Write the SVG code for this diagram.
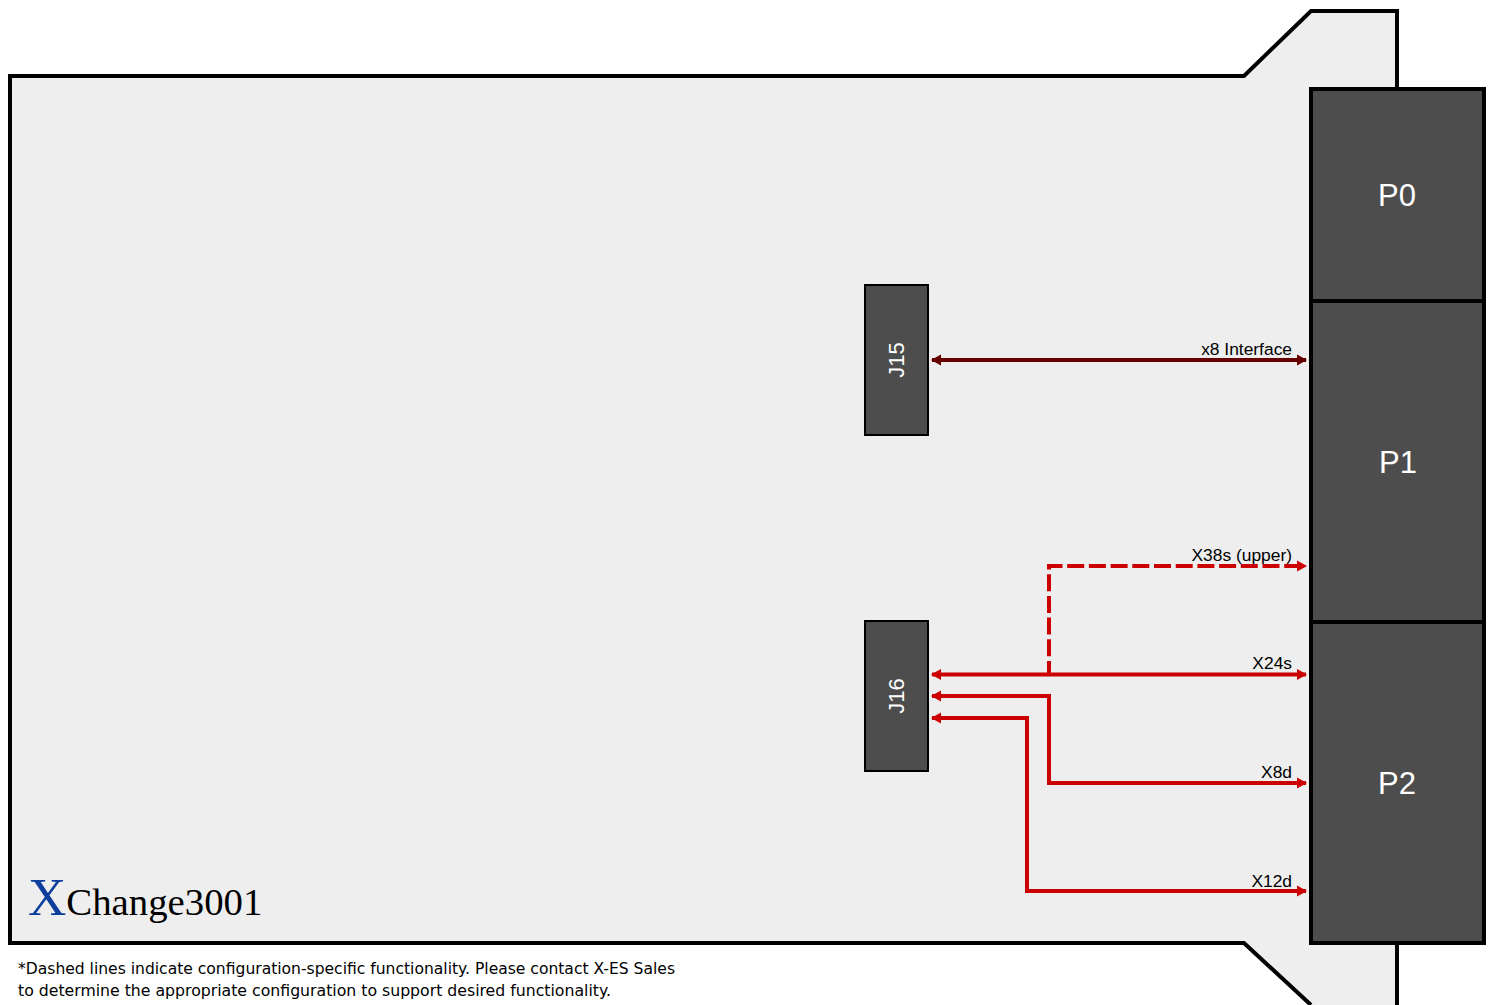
<svg xmlns="http://www.w3.org/2000/svg" width="1493" height="1005" viewBox="0 0 1493 1005">
<style>
.board{fill:#eeeeee;stroke:none}
.edge{fill:none;stroke:#000;stroke-width:4}
.conn{fill:#4d4d4d;stroke:#000;stroke-width:4}
.jack{fill:#4d4d4d;stroke:#000;stroke-width:2}
.l{fill:#fff;font-family:"Liberation Sans",Arial,sans-serif;text-anchor:middle}
.lab{fill:#000;font-family:"Liberation Sans",Arial,sans-serif;font-size:17.400px;text-anchor:end}
.note{fill:#000;font-family:"DejaVu Sans",sans-serif;font-size:16px}
.r{fill:none;stroke:#cc0000;stroke-width:4}
.d{fill:none;stroke:#660000;stroke-width:4}
</style>
<defs>
<marker id="ar" markerUnits="userSpaceOnUse" markerWidth="10" markerHeight="12" refX="9" refY="6" orient="auto-start-reverse"><path d="M0 0.500L10 6L0 11.500z" fill="#cc0000"/></marker>
<marker id="ad" markerUnits="userSpaceOnUse" markerWidth="10" markerHeight="12" refX="9" refY="6" orient="auto-start-reverse"><path d="M0 0.500L10 6L0 11.500z" fill="#660000"/></marker>
</defs>
<g id="board">
<path class="board" d="M10 76H1244L1311 11H1397V1005H1311L1244 943H10z"/>
<path class="edge" d="M1397 89V11H1311L1244 76H10V943H1244L1311 1005M1397 943V1005"/>
</g>
<g id="P0"><rect class="conn" x="1311" y="89" width="173" height="212"/><text class="l" x="1397" y="206" font-size="31">P0</text></g>
<g id="P1"><rect class="conn" x="1311" y="301" width="173" height="321"/><text class="l" x="1398" y="473" font-size="31">P1</text></g>
<g id="P2"><rect class="conn" x="1311" y="622" width="173" height="321"/><text class="l" x="1397" y="794" font-size="31">P2</text></g>
<g id="J15"><rect class="jack" x="865" y="285" width="63" height="150"/><text class="l" transform="translate(904 360) rotate(-90)" font-size="22">J15</text></g>
<g id="J16"><rect class="jack" x="865" y="621" width="63" height="150"/><text class="l" transform="translate(904 696) rotate(-90)" font-size="22">J16</text></g>
<g id="connectors">
<path class="d" d="M932 360H1306" marker-start="url(#ad)" marker-end="url(#ad)"/>
<path class="r" d="M1049 674V566H1306" stroke-dasharray="17 4.700" stroke-dashoffset="4" marker-end="url(#ar)"/>
<path class="r" d="M932 674.500H1306" marker-start="url(#ar)" marker-end="url(#ar)"/>
<path class="r" d="M932 696H1049V783H1306" marker-start="url(#ar)" marker-end="url(#ar)"/>
<path class="r" d="M932 718H1027V891H1306" marker-start="url(#ar)" marker-end="url(#ar)"/>
</g>
<g id="labels">
<text class="lab" x="1292" y="355">x8 Interface</text>
<text class="lab" x="1292" y="561">X38s (upper)</text>
<text class="lab" x="1292" y="669">X24s</text>
<text class="lab" x="1292" y="778">X8d</text>
<text class="lab" x="1292" y="887">X12d</text>
</g>
<g id="logo"><text x="28" y="915" font-family="'Liberation Serif','Times New Roman',serif" font-size="38.800" fill="#000"><tspan font-size="53" fill="#0f3f9c">X</tspan>Change3001</text></g>
<g id="note">
<text class="note" x="18" y="974" textLength="657" lengthAdjust="spacingAndGlyphs">*Dashed lines indicate configuration-specific functionality. Please contact X-ES Sales</text>
<text class="note" x="18" y="996" textLength="593" lengthAdjust="spacingAndGlyphs">to determine the appropriate configuration to support desired functionality.</text>
</g>
</svg>
